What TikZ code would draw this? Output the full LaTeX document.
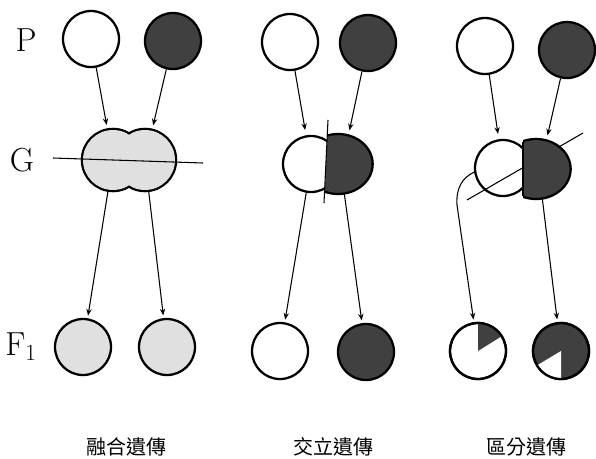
\documentclass[tikz,border=0pt]{standalone}
\usepackage{fontspec}
\newfontfamily\cjk{Noto Sans CJK TC}
\usetikzlibrary{arrows.meta}
\begin{document}
\begin{tikzpicture}[x=0.75pt,y=-0.75pt,
  ball/.style={circle, draw, line width=1.7pt, inner sep=0pt, minimum size=42pt},
  whiteball/.style={ball, fill=white},
  darkball/.style={ball, fill=black!75},
  lightball/.style={ball, fill=black!12},
  ghost/.style={circle, inner sep=0pt, minimum size=45pt},
  arr/.style={line width=0.8pt, -{Stealth[length=5pt,width=4pt]}, shorten >=2pt},
  cutline/.style={line width=0.8pt},
  gen/.style={font=\fontsize{25}{30}\selectfont},
  caption/.style={font=\cjk\fontsize{15}{18}\selectfont}]
\useasboundingbox (0,0) rectangle (596,458);
\node[gen] (lp) at (26,40) {P};
\node[gen] (lg) at (22,160) {G};
\node[gen] (lf) at (21,347) {F$_1$};
\node[whiteball] (p1w) at (91,39) {};
\node[darkball] (p1d) at (173,41) {};
\node[whiteball] (p2w) at (290,42) {};
\node[darkball] (p2d) at (368,43) {};
\node[whiteball] (p3w) at (485,46) {};
\node[darkball] (p3d) at (567,50) {};
\node[ghost] (g1l) at (113,160) {};
\node[ghost] (g1r) at (145,160) {};
\draw[line width=3.4pt] (g1l.center) circle[radius=22.5pt] (g1r.center) circle[radius=22.5pt];
\fill[black!12] (g1l.center) circle[radius=22.5pt] (g1r.center) circle[radius=22.5pt];
\draw[cutline] (53,158) -- (203,163);
\node[whiteball] (g2w) at (311,164) {};
\node[ghost] (g2d) at (338,164) {};
\begin{scope}
\clip (329,100) -- (420,100) -- (420,230) -- (323,230) -- cycle;
\draw[line width=1.7pt, fill=black!75] (g2d.center) ellipse[x radius=26pt, y radius=22.5pt];
\end{scope}
\draw[cutline] (328,120) -- (324,203);
\node[whiteball] (g3w) at (503,168) {};
\draw[cutline] (583,133) -- (467,200);
\node[ghost] (g3d) at (536,169) {};
\begin{scope}
\clip (523,100) rectangle (596,230);
\draw[line width=1.7pt, fill=black!75] (g3d.center) ellipse[x radius=26pt, y radius=22.5pt];
\end{scope}
\draw[line width=1.2pt] (523,142) -- (523,196);
\node[lightball] (f1l) at (83,347) {};
\node[lightball] (f1r) at (167,347) {};
\node[whiteball] (f2w) at (280,351) {};
\node[darkball] (f2d) at (366,352) {};
\node[whiteball] (f3w) at (478,351) {};
\node[darkball] (f3d) at (561,351) {};
\begin{scope}
\clip (f3w.center) circle[radius=21pt];
\fill[black!75] (f3w.center) -- ([shift={(32:30pt)}]f3w.center) -- ([shift={(90:30pt)}]f3w.center) -- cycle;
\end{scope}
\draw[line width=1.7pt] (f3w.center) circle[radius=21pt];
\begin{scope}
\clip (f3d.center) circle[radius=21pt];
\fill[white] (f3d.center) -- ([shift={(211:30pt)}]f3d.center) -- ([shift={(270:30pt)}]f3d.center) -- cycle;
\end{scope}
\draw[line width=1.7pt] (f3d.center) circle[radius=21pt];
\draw[arr, shorten >=4pt] (p1w) -- (g1l);
\draw[arr, shorten >=4pt] (p1d) -- (g1r);
\draw[arr] (g1l) -- (f1l);
\draw[arr] (g1r) -- (f1r);
\draw[arr, shorten >=4pt] (p2w) -- (g2w);
\draw[arr, shorten >=4pt] (p2d) -- (g2d.70);
\draw[arr] (g2w) -- (f2w);
\draw[arr] (g2d.-78) -- (f2d);
\draw[arr, shorten >=4pt] (p3w) -- (g3w);
\draw[arr, shorten >=4pt] (p3d) -- (g3d.70);
\draw[arr] (g3w.188) .. controls (462,178) and (456,188) .. (457,205) -- (f3w);
\draw[arr] (g3d.-78) -- (f3d);
\node[caption] (c1) at (126,447) {融合遺傳};
\node[caption] (c2) at (333,447) {交立遺傳};
\node[caption] (c3) at (526,447) {區分遺傳};
\end{tikzpicture}
\end{document}
